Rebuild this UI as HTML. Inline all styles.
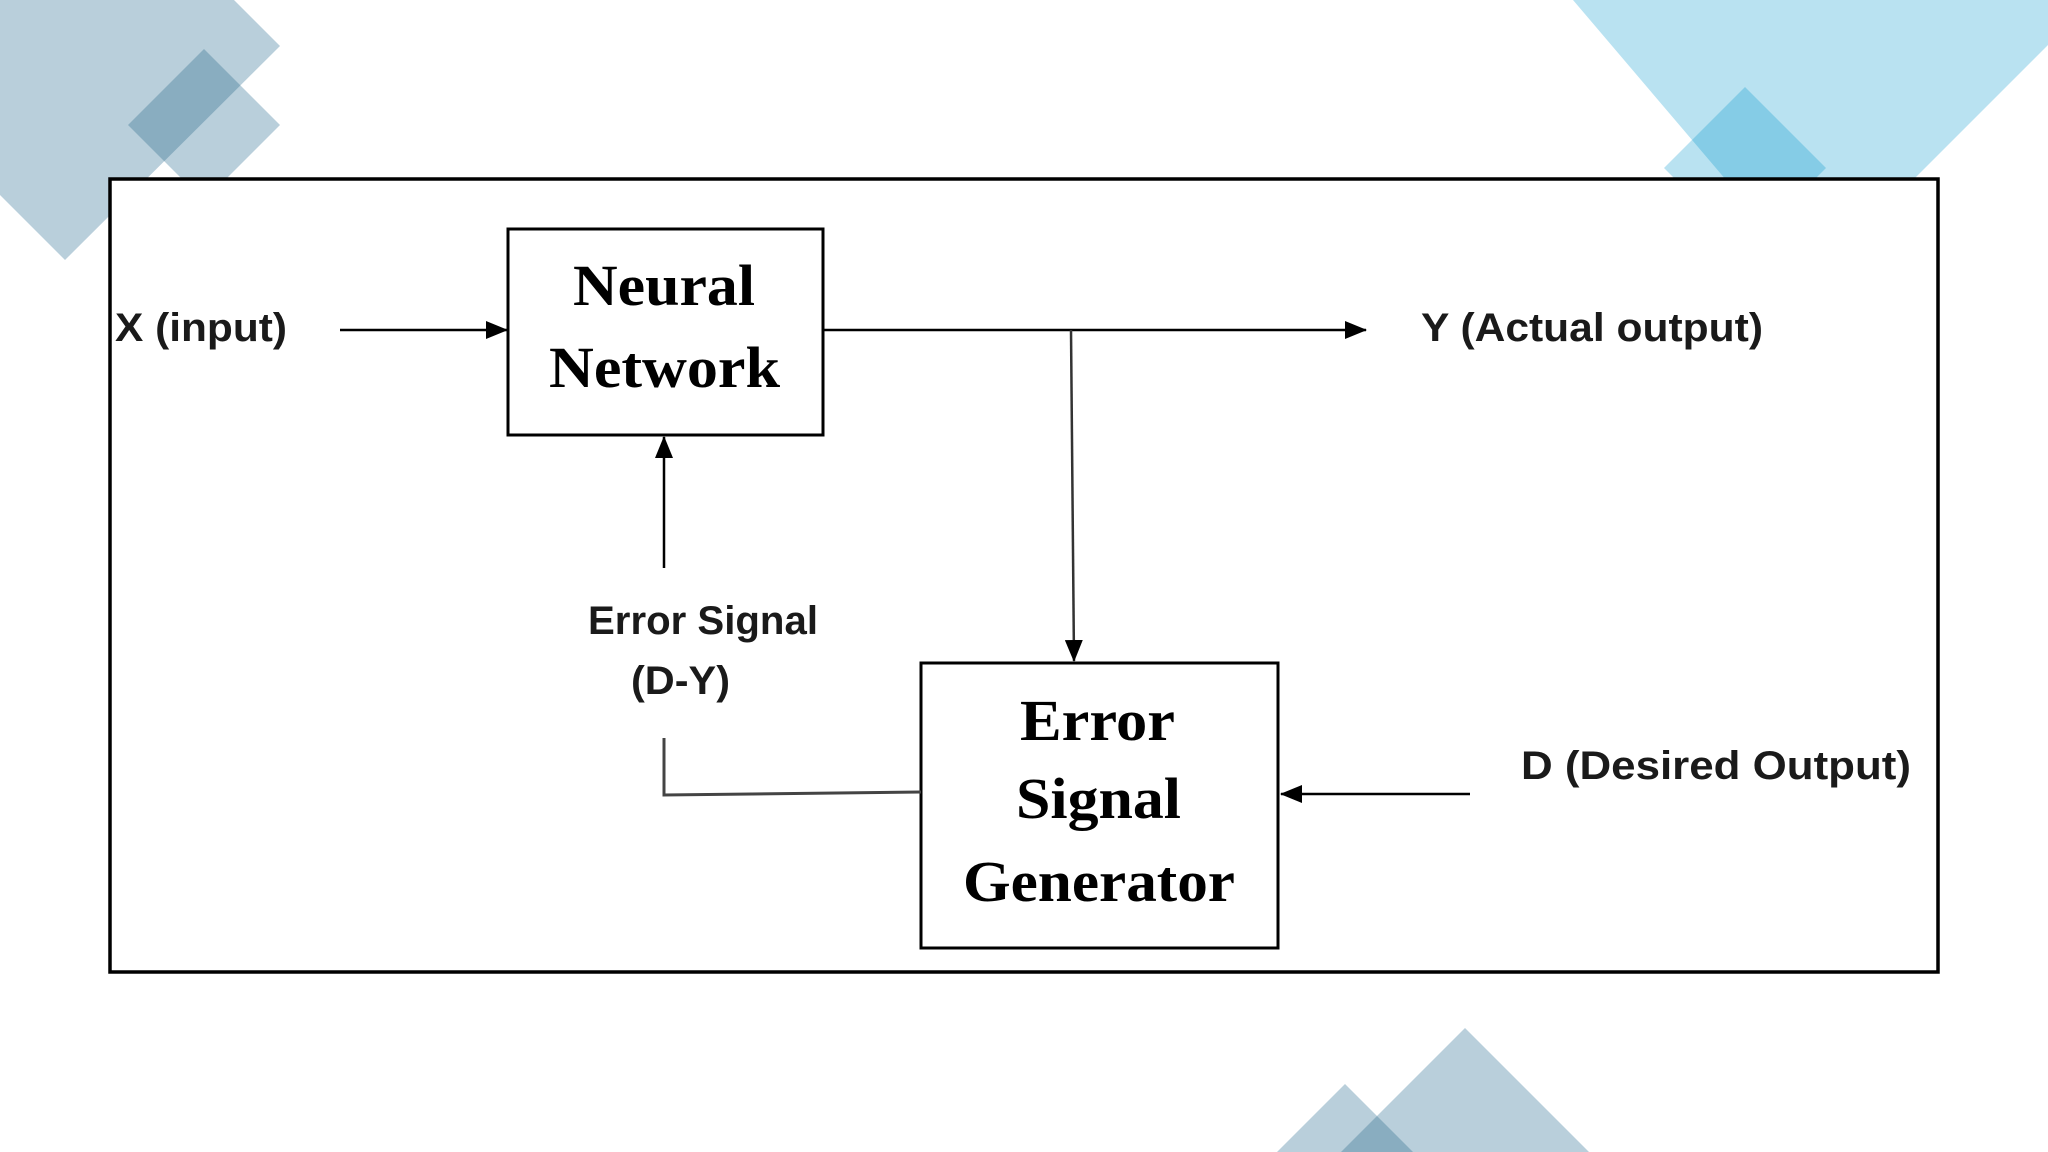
<!DOCTYPE html>
<html><head><meta charset="utf-8"><style>html,body{margin:0;padding:0;background:#fff}svg{display:block}</style></head>
<body>
<svg width="2048" height="1152" viewBox="0 0 2048 1152" xmlns="http://www.w3.org/2000/svg">
<defs>
<clipPath id="c1"><polygon points="234,0 280,46 65,260 0,195 0,0"/></clipPath>
<clipPath id="c2"><polygon points="1573,0 2048,0 2048,45 1812,281"/></clipPath>
<clipPath id="c3"><polygon points="1465,1028 1589,1152 1341,1152"/></clipPath>
<marker id="ah" markerWidth="22" markerHeight="18" refX="21" refY="9" orient="auto" markerUnits="userSpaceOnUse"><path d="M0,0 L22,9 L0,18 z" fill="#000"/></marker>
</defs>
<polygon points="234,0 280,46 65,260 0,195 0,0" fill="#b9cfdb"/>
<polygon points="204,49 280,125 204,201 128,125" fill="#b9cfdb"/>
<polygon points="204,49 280,125 204,201 128,125" fill="#89adc0" clip-path="url(#c1)"/>
<polygon points="1573,0 2048,0 2048,45 1812,281" fill="#b9e2f1"/>
<polygon points="1745,87 1826,168 1745,249 1664,168" fill="#b9e2f1"/>
<polygon points="1745,87 1826,168 1745,249 1664,168" fill="#85cce6" clip-path="url(#c2)"/>
<polygon points="1465,1028 1589,1152 1341,1152" fill="#b9cfdb"/>
<polygon points="1345,1084 1413,1152 1277,1152" fill="#b9cfdb"/>
<polygon points="1345,1084 1413,1152 1277,1152" fill="#89adc0" clip-path="url(#c3)"/>
<rect x="110" y="179" width="1828" height="793" fill="#fff" stroke="#000" stroke-width="3.5"/>
<rect x="508" y="229" width="315" height="206" fill="#fff" stroke="#000" stroke-width="3"/>
<rect x="921" y="663" width="357" height="285" fill="#fff" stroke="#000" stroke-width="3"/>
<g stroke="#000" stroke-width="2.5" fill="none">
<line x1="340" y1="330" x2="507" y2="330" marker-end="url(#ah)"/>
<line x1="823" y1="330" x2="1366" y2="330" marker-end="url(#ah)"/>
<line x1="1071" y1="330" x2="1074" y2="661" marker-end="url(#ah)" stroke="#333"/>
<line x1="664" y1="568" x2="664" y2="437" marker-end="url(#ah)"/>
<polyline points="664,738 664,795 921,792" stroke="#444" stroke-width="3"/>
<line x1="1470" y1="794" x2="1281" y2="794" marker-end="url(#ah)"/>
</g>
<g font-family="Liberation Serif, serif" font-weight="bold" font-size="58" fill="#000">
<text x="573" y="305" textLength="182" lengthAdjust="spacingAndGlyphs">Neural</text>
<text x="549" y="387" textLength="231" lengthAdjust="spacingAndGlyphs">Network</text>
<text x="1020" y="740" textLength="155" lengthAdjust="spacingAndGlyphs">Error</text>
<text x="1016" y="818" textLength="165" lengthAdjust="spacingAndGlyphs">Signal</text>
<text x="963" y="901" textLength="272" lengthAdjust="spacingAndGlyphs">Generator</text>
</g>
<g font-family="Liberation Sans, sans-serif" font-size="40" font-weight="bold" fill="#1a1a1a">
<text x="115" y="341" textLength="172" lengthAdjust="spacingAndGlyphs">X (input)</text>
<text x="1421" y="341" textLength="342" lengthAdjust="spacingAndGlyphs">Y (Actual output)</text>
<text x="1521" y="779" textLength="390" lengthAdjust="spacingAndGlyphs">D (Desired  Output)</text>
<text x="588" y="634" textLength="230" lengthAdjust="spacingAndGlyphs">Error Signal</text>
<text x="631" y="694" textLength="99" lengthAdjust="spacingAndGlyphs">(D-Y)</text>
</g>
</svg>
</body></html>
